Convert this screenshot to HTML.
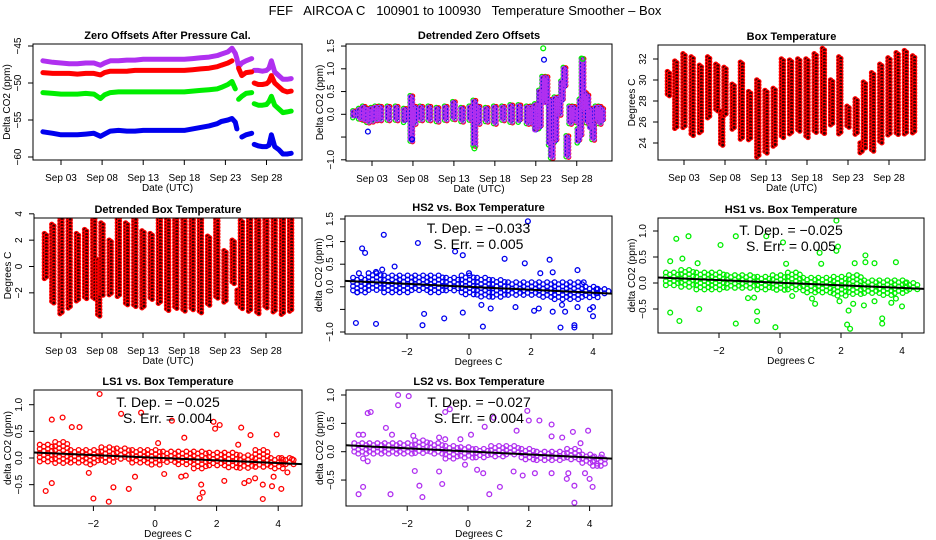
<!DOCTYPE html>
<html><head><meta charset="utf-8"><title>FEF AIRCOA C Temperature Smoother - Box</title>
<style>
html,body{margin:0;padding:0;background:#fff;width:936px;height:540px;overflow:hidden}
svg{display:block;font-family:"Liberation Sans",Arial,sans-serif}
</style></head>
<body>
<svg id="chart" width="936" height="540" viewBox="0 0 936 540" xmlns="http://www.w3.org/2000/svg">
<text x="465" y="15" font-size="13" text-anchor="middle" xml:space="preserve">FEF   AIRCOA C   100901 to 100930   Temperature Smoother – Box</text>
</svg>
<script>
// ---------- Panel 1: zero offsets (day of September, ppm) ----------
const p1Times = [0.8,2,3,4,5,6,7,7.8,8.3,9,10,11,12,13,14,15,16,17,18,19,20,21,22,22.5,23.3,23.8,24.2,24.4,24.6,25,25.5,26.2,26.3,26.5,27,27.5,28,28.3,28.6,29,29.5,30,30.5,31];
const p1Purple = [-47,-47.2,-47.3,-47.4,-47.4,-47.3,-47.3,-47.6,-47.3,-47,-47,-46.9,-46.9,-46.8,-46.8,-46.8,-46.8,-46.8,-46.8,-46.7,-46.6,-46.5,-46.3,-46.1,-45.8,-45.3,-46,-46.7,-47.8,-47.3,-47,-46.7,null,-48.3,-48.3,-48.4,-48.3,-48,-47,-48.5,-49,-49.5,-49.5,-49.4];
const p1Red = [-48.6,-48.7,-48.7,-48.7,-48.8,-48.7,-48.7,-48.9,-48.6,-48.4,-48.4,-48.4,-48.3,-48.3,-48.3,-48.3,-48.3,-48.3,-48.3,-48.2,-48.1,-48,-47.8,-47.6,-47.3,-47,null,null,-48,-49,-48.6,-48.5,null,-50,-50.2,-50.2,-50.1,-49.8,-49,-50,-50.5,-51,-51.2,-51.1];
const p1Green = [-51.3,-51.4,-51.5,-51.5,-51.5,-51.4,-51.5,-52.1,-51.6,-51.3,-51.2,-51.2,-51.2,-51.2,-51.2,-51.2,-51.2,-51.2,-51.2,-51.1,-51,-50.9,-50.8,-50.6,-50.2,-49.8,-50.8,null,-52.2,-51.8,-51.4,-51.3,null,-52.8,-53,-53,-52.9,-52.5,-51.8,-53,-53.5,-54,-53.9,-53.8];
const p1Blue = [-56.6,-56.8,-57,-57,-57,-56.9,-56.8,-57.2,-56.9,-56.5,-56.4,-56.5,-56.5,-56.4,-56.4,-56.4,-56.4,-56.4,-56.4,-56.2,-56,-55.8,-55.5,-55.2,-55,-54.8,-55.3,-56.2,null,-57.3,-57,-56.8,null,-58.3,-58.5,-58.6,-58.6,-58.4,-57,-58.6,-59,-59.6,-59.6,-59.5];
// ---------- Panel 2: detrended zero offsets band ----------
const p2Times = [0.8,1.5,2,2.5,3,3.5,4,5,6,7,7.8,8.2,9,10,11,12,13,14,15,15.5,16,17,18,19,20,21,22,22.5,23,23.5,23.9,24.3,24.7,24.95,25.4,25.9,26.2,26.5,26.85,27.2,27.6,28,28.2,28.45,28.7,29,29.3,29.7,30,30.4,30.8,31.1];
const p2Lo = [-0.05,-0.12,-0.15,-0.2,-0.15,-0.15,-0.12,-0.15,-0.15,-0.15,-0.6,-0.2,-0.15,-0.15,-0.15,-0.15,-0.1,-0.15,-0.12,-0.7,-0.2,-0.15,-0.2,-0.15,-0.2,-0.15,-0.2,-0.2,-0.35,-0.3,0.3,0.25,-0.65,-0.95,-0.6,0.0,0.3,0.6,-0.95,-0.2,-0.15,-0.2,-0.6,-0.5,0.3,0.1,-0.2,-0.3,-0.55,-0.15,-0.2,-0.15];
const p2Hi = [0.05,0.1,0.15,0.1,0.12,0.15,0.15,0.15,0.15,0.1,0.38,0.15,0.15,0.15,0.12,0.15,0.25,0.12,0.15,0.28,0.15,0.12,0.15,0.15,0.18,0.18,0.15,0.15,0.2,0.5,0.8,0.8,0.3,-0.6,0.35,0.35,0.7,1.0,-0.5,0.15,0.15,0.1,-0.35,0.3,1.2,0.45,0.4,0.1,-0.2,0.15,0.15,0.1];
const p2OutT = [2.5,23.9,24.0,28.7,7.9,15.5];
const p2OutV = [-0.38,1.45,1.2,1.22,-0.55,-0.75];
// ---------- Panel 3 / 4: daily box temperature ranges ----------
const tempDays = [1.1,2,3,4,5,6,7,7.6,8,9,10,11,12,13,14,15,16,17,18,19,20,21,22,23,24,24.6,25,26,27,28,29,30,31];
const tempMax = [30.8,31.8,32.5,32.2,31.4,32.2,31.5,27,31.2,29.6,31.7,28.9,30,29,29.2,32,31.9,32,32,32.5,33,30,32.2,27.5,28.2,24,29.8,30.7,31.5,32.1,32.6,32.8,32.3];
const tempMin = [28.5,25.3,25.4,24.7,25,26.3,27,23.7,26.6,25.3,24.3,24.3,22.6,23,23.7,24.5,24.8,25,24.5,25,24.9,25.6,24.8,25.5,24.8,23,23.5,23.2,24,24.7,24.7,24.8,24.9];
const detMax = [2.5,3.2,4.2,3.9,2.5,2.8,4,0.5,3.3,2,4.3,3.3,3.9,2.7,2.5,4.5,3.6,4,3.8,3.9,4.4,2.3,4.3,1.2,2,-1.8,3.5,3.9,3.6,3.8,4.1,4.4,3.9];
const detMin = [-1,-2.8,-3.6,-3.2,-2.7,-2.5,-2.5,-3.8,-2.2,-2.2,-2.3,-3,-3.1,-3.2,-2.6,-2.8,-3.4,-3.2,-3.4,-3.3,-3.5,-3,-2.5,-2.7,-1.4,-2.8,-3.3,-3.4,-3.6,-3.2,-3.5,-3.7,-3.5];
// ---------- Scatter panels: dense band bins + outliers ----------
const bandX = [-3.5,-3,-2.5,-2,-1.5,-1,-0.5,0,0.5,1,1.5,2,2.5,3,3.5,4,4.35];
const hs2Lo = [-0.15,-0.1,-0.15,-0.15,-0.1,-0.15,-0.1,-0.2,-0.25,-0.25,-0.2,-0.2,-0.25,-0.3,-0.3,-0.25,-0.15];
const hs2Hi = [0.2,0.3,0.25,0.25,0.25,0.25,0.2,0.25,0.2,0.15,0.1,0.1,0.1,0.1,0.1,0.0,-0.05];
const hs1Lo = [-0.05,-0.1,-0.15,-0.15,-0.1,-0.12,-0.15,-0.15,-0.15,-0.2,-0.2,-0.25,-0.22,-0.2,-0.25,-0.22,-0.15];
const hs1Hi = [0.2,0.25,0.2,0.2,0.15,0.15,0.12,0.15,0.2,0.1,0.1,0.12,0.15,0.05,0.05,0.05,0.0];
const ls1Lo = [-0.1,-0.1,-0.1,-0.1,-0.1,-0.05,-0.1,-0.15,-0.1,-0.15,-0.2,-0.15,-0.2,-0.2,-0.2,-0.2,-0.15];
const ls1Hi = [0.25,0.3,0.15,0.15,0.2,0.18,0.15,0.15,0.12,0.12,0.12,0.1,0.1,0.05,0.15,0.0,0.0];
const ls2Lo = [-0.05,-0.05,-0.05,-0.05,-0.05,-0.05,-0.15,-0.12,-0.1,-0.1,-0.08,-0.15,-0.15,-0.15,-0.15,-0.2,-0.25];
const ls2Hi = [0.15,0.15,0.15,0.15,0.2,0.15,0.1,0.08,0.05,0.1,0.1,0.05,0.0,0.0,0.05,-0.05,-0.1];
const hs2OutX = [-3.55,-3.45,-3.35,-2.75,-2.4,-1.65,-0.45,-0.2,1.15,1.8,1.9,2.6,3.5,-3.65,-3.6,-3.0,-1.45,-1.5,-0.8,-0.2,0.4,0.45,0.7,1.5,2.1,2.25,2.7,2.95,3.0,3.1,3.4,3.4,3.5,3.9,4.0,4.0,3.7,2.7,2.3,0.0,-3.0,-2.8];
const hs2OutY = [0.3,0.85,0.75,1.15,0.45,0.97,0.78,0.7,0.62,0.52,1.45,0.6,0.37,-0.8,-0.12,-0.82,-0.6,-0.85,-0.7,-0.57,-0.4,-0.88,-0.48,-0.45,-0.53,-0.48,-0.55,-0.9,-0.4,-0.55,-0.9,-0.85,-0.45,-0.5,-0.65,-0.45,0.1,0.32,0.3,0.3,0.33,0.38];
const hs1OutX = [-3.6,-3.4,-3.2,-3.0,-2.7,-1.95,-1.45,-0.45,0.1,1.3,1.85,1.85,1.9,2.8,2.8,3.1,3.8,2.45,1.35,0.2,-3.6,-3.3,-2.65,-1.45,-0.75,-0.75,-0.15,-0.85,-1.05,1.95,2.2,2.3,2.25,2.4,2.75,3.1,3.35,3.35,3.65,3.8,4.0,1.05,1.15,0.4];
const hs1OutY = [0.42,0.85,0.47,0.9,0.38,0.73,0.9,0.9,0.78,0.58,1.2,0.62,0.7,0.53,0.4,0.38,0.4,0.38,0.37,0.37,-0.57,-0.73,-0.5,-0.78,-0.73,-0.55,-0.85,-0.28,-0.29,-0.35,-0.8,-0.88,-0.53,-0.4,-0.43,-0.35,-0.68,-0.78,-0.38,-0.3,-0.45,-0.3,-0.4,-0.25];
const ls1OutX = [-1.8,-3.55,-3.35,-3.35,-3.0,-2.7,-2.45,-2.0,-2.15,-1.5,-1.35,-1.1,-0.85,-0.65,-0.45,0.55,1.9,1.95,2.1,2.8,3.1,3.95,0.95,0.1,0.85,1.0,1.45,1.5,1.55,2.25,2.9,3.05,3.25,3.5,3.5,3.8,3.85,4.1,4.3,0.3,-2.1,2.7,4.45];
const ls1OutY = [1.2,-0.62,-0.47,0.72,0.76,0.58,0.58,-0.76,-0.28,-0.82,-0.55,0.83,-0.58,-0.35,0.85,0.7,0.68,0.55,0.62,0.57,0.43,0.44,0.38,0.28,-0.35,-0.33,-0.75,-0.5,-0.65,-0.43,-0.47,-0.43,-0.38,-0.77,-0.5,-0.53,-0.35,-0.58,-0.27,-0.3,-0.12,0.25,-0.02];
const ls2OutX = [-3.6,-3.45,-3.3,-3.2,-2.7,-2.5,-2.3,-2.3,-1.95,-1.8,-0.95,-0.75,-0.75,-0.6,-0.25,0.1,0.55,0.85,1.6,1.95,2.0,2.35,2.75,2.75,3.1,3.45,3.95,3.7,-3.6,-3.45,-3.45,-3.3,-2.55,-1.75,-1.6,-1.5,-0.95,-0.85,-0.1,0.3,0.5,0.7,1.05,1.5,1.8,2.2,2.75,3.25,3.3,3.5,3.5,3.85,4.0,4.1,4.25,4.4];
const ls2OutY = [0.3,0.3,0.68,0.7,0.42,0.3,1.0,0.82,0.98,0.28,0.25,0.22,0.7,0.75,0.22,0.3,0.44,0.6,0.37,0.72,0.55,0.55,0.48,0.27,0.25,0.35,0.37,0.15,-0.75,-0.62,-0.12,-0.17,-0.75,-0.34,-0.6,-0.8,-0.35,-0.57,-0.23,-0.32,-0.38,-0.75,-0.62,-0.35,-0.42,-0.38,-0.38,-0.48,-0.38,-0.6,-0.9,-0.38,-0.48,-0.62,-0.25,-0.05];
const fitSlope = [-0.033,-0.025,-0.025,-0.027];
const fitIntercept = [0.0,0.005,0.005,0.005];
const fitLabels = ['−0.033','−0.025','−0.025','−0.027'];
const errLabels = ['0.005','0.005','0.004','0.004'];
const dateTicks = [3,8,13,18,23,28];
const dateTickLabels = ['Sep 03','Sep 08','Sep 13','Sep 18','Sep 23','Sep 28'];
const degTicks = [-2,0,2,4];

const NS='http://www.w3.org/2000/svg';
const svg=document.getElementById('chart');
function mk(tag,attrs,parent){const e=document.createElementNS(NS,tag);for(const k in attrs)e.setAttribute(k,attrs[k]);parent.appendChild(e);return e;}

const PURPLE='#b030f0', RED='#ff0000', GREEN='#00ee00', BLUE='#0000ee';

function makePanel(cfg){
  const g=mk('g',{},svg);
  
  
  const sx=v=>cfg.x0+(v-cfg.xv0)*cfg.xs;
  const sy=v=>cfg.y0-(v-cfg.yv0)*cfg.ys;
  const L=cfg.box[0],T=cfg.box[1],R=cfg.box[2],B=cfg.box[3];
  const cid='clip-'+cfg.name;
  const cp=mk('clipPath',{id:cid},g);
  mk('rect',{x:L,y:T,width:R-L,height:B-T},cp);
  const plot=mk('g',{'clip-path':'url(#'+cid+')'},g);
  
  
  const frame=mk('rect',{x:L,y:T,width:R-L,height:B-T,fill:'none',stroke:'#000','stroke-width':1},g);
  
  
  const title=mk('text',{x:(L+R)/2,y:T-5,'font-size':11,'font-weight':'bold','text-anchor':'middle'},g);
  title.textContent=cfg.title;
  
  
  cfg.xt.forEach((v,i)=>{
    const x=sx(v);
    const t=mk('line',{x1:x,x2:x,y1:B,y2:B+5,stroke:'#000'},g);
    
    
    const lb=mk('text',{x:x,y:B+21,'font-size':10,'text-anchor':'middle'},g);
    lb.textContent=cfg.xl[i];
    
    
  });
  const xa=mk('line',{x1:sx(cfg.xt[0]),x2:sx(cfg.xt[cfg.xt.length-1]),y1:B,y2:B,stroke:'#000'},g);
  
  
  const xt=mk('text',{x:(L+R)/2,y:B+31,'font-size':10,'text-anchor':'middle'},g);
  xt.textContent=cfg.xtitle;
  
  
  cfg.yt.forEach((v,i)=>{
    const y=sy(v);
    const t=mk('line',{x1:L-5,x2:L,y1:y,y2:y,stroke:'#000'},g);
    
    
    if(cfg.yl[i]!==''){
      const lb=mk('text',{x:L-12,y:y,'font-size':10,'text-anchor':'middle',transform:'rotate(-90 '+(L-12)+' '+y+')'},g);
      lb.textContent=cfg.yl[i];
      
      
    }
  });
  const ya=mk('line',{x1:L,x2:L,y1:sy(cfg.yt[0]),y2:sy(cfg.yt[cfg.yt.length-1]),stroke:'#000'},g);
  
  
  const yy=(T+B)/2;
  const ytl=mk('text',{x:L-23,y:yy,'font-size':10,'text-anchor':'middle',transform:'rotate(-90 '+(L-23)+' '+yy+')'},g);
  ytl.textContent=cfg.ytitle;
  
  
  return {g,plot,sx,sy,L,T,R,B};
}
function dot(parent,x,y,color,fill,r){
  const c=mk('circle',{cx:x.toFixed(1),cy:y.toFixed(1),r:r||2.4,fill:fill||'none',stroke:color,'stroke-width':1.3},parent);
  
  
  return c;
}
function seriesLine(P,times,vals,color,name){
  let segs=[],cur=[];
  times.forEach((t,i)=>{ if(vals[i]===null){ if(cur.length)segs.push(cur); cur=[]; } else cur.push([P.sx(t),P.sy(vals[i])]); });
  if(cur.length)segs.push(cur);
  segs.forEach(s=>{
    if(s.length===1){ const c=mk('circle',{cx:s[0][0],cy:s[0][1],r:3,fill:color},P.plot);
      
      
      return; }
    const pl=mk('polyline',{points:s.map(p=>p[0].toFixed(1)+','+p[1].toFixed(1)).join(' '),fill:'none',stroke:color,'stroke-width':5,'stroke-linejoin':'round','stroke-linecap':'round'},P.plot);
    
    
  });
}
function columns(P,times,lo,hi,offs,color,fill,step){
  step=step||3;
  times.forEach((t,i)=>{
    const y1=P.sy(hi[i]),y2=P.sy(lo[i]);
    offs.forEach((o,j)=>{
      const x=P.sx(t+o);
      for(let y=y1+(j%2)*step/2;y<=y2+0.01;y+=step) dot(P.plot,x,y,color,fill,2.1);
    });
  });
}

const geo=[
 {name:'panel-zero-offsets',title:'Zero Offsets After Pressure Cal.',box:[33,44,302,160],x0:61,xv0:3,xs:8.22,y0:46,yv0:-45,ys:7.4,xt:dateTicks,xl:dateTickLabels,xtitle:'Date (UTC)',yt:[-60,-55,-50,-45],yl:['−60','−55','−50','−45'],ytitle:'Delta CO2  (ppm)'},
 {name:'panel-detrended-zero-offsets',title:'Detrended Zero Offsets',box:[346,44,612,161],x0:372,xv0:3,xs:8.19,y0:114.3,yv0:0,ys:45.5,xt:dateTicks,xl:dateTickLabels,xtitle:'Date (UTC)',yt:[-1,-0.5,0,0.5,1,1.5],yl:['−1.0','','0.0','0.5','1.0','1.5'],ytitle:'Delta CO2  (ppm)'},
 {name:'panel-box-temperature',title:'Box Temperature',box:[658,45,925,160],x0:684,xv0:3,xs:8.2,y0:59,yv0:32,ys:10.5,xt:dateTicks,xl:dateTickLabels,xtitle:'Date (UTC)',yt:[24,26,28,30,32],yl:['24','26','28','30','32'],ytitle:'Degrees C'},
 {name:'panel-detrended-box-temperature',title:'Detrended Box Temperature',box:[34,218,302,333],x0:61,xv0:3,xs:8.2,y0:266.5,yv0:0,ys:13.17,xt:dateTicks,xl:dateTickLabels,xtitle:'Date (UTC)',yt:[-2,0,2,4],yl:['−2','0','2','4'],ytitle:'Degrees C'},
 {name:'panel-hs2-vs-temp',title:'HS2 vs. Box Temperature',box:[345,216,612,334],x0:469,xv0:0,xs:31,y0:286.8,yv0:0,ys:45.2,xt:degTicks,xl:['−2','0','2','4'],xtitle:'Degrees C',yt:[-1,-0.5,0,0.5,1,1.5],yl:['−1.0','','0.0','0.5','1.0','1.5'],ytitle:'delta CO2 (ppm)'},
 {name:'panel-hs1-vs-temp',title:'HS1 vs. Box Temperature',box:[658,218,924,333],x0:780,xv0:0,xs:30.5,y0:283,yv0:0,ys:52,xt:degTicks,xl:['−2','0','2','4'],xtitle:'Degrees C',yt:[-0.5,0,0.5,1],yl:['−0.5','0.0','0.5','1.0'],ytitle:'delta CO2 (ppm)'},
 {name:'panel-ls1-vs-temp',title:'LS1 vs. Box Temperature',box:[34,390,302,506],x0:155,xv0:0,xs:30.8,y0:458,yv0:0,ys:53.3,xt:degTicks,xl:['−2','0','2','4'],xtitle:'Degrees C',yt:[-0.5,0,0.5,1],yl:['−0.5','0.0','0.5','1.0'],ytitle:'delta CO2 (ppm)'},
 {name:'panel-ls2-vs-temp',title:'LS2 vs. Box Temperature',box:[346,390,612,506],x0:468,xv0:0,xs:30.4,y0:451.7,yv0:0,ys:56.7,xt:degTicks,xl:['−2','0','2','4'],xtitle:'Degrees C',yt:[-0.5,0,0.5,1],yl:['−0.5','0.0','0.5','1.0'],ytitle:'delta CO2 (ppm)'}
];
const P=geo.map(makePanel);

// Panel 1
seriesLine(P[0],p1Times,p1Purple,PURPLE,'series-purple');
seriesLine(P[0],p1Times,p1Red,RED,'series-red');
seriesLine(P[0],p1Times,p1Green,GREEN,'series-green');
seriesLine(P[0],p1Times,p1Blue,BLUE,'series-blue');
// Panel 2
columns(P[1],p2Times,p2Lo.map(v=>v-0.03),p2Hi.map(v=>v+0.03),[-0.15],GREEN,null,3.5);
columns(P[1],p2Times,p2Lo.map(v=>v-0.02),p2Hi.map(v=>v+0.02),[0.15],RED,null,3.5);
columns(P[1],p2Times,p2Lo,p2Hi,[0],BLUE,null,3.5);
columns(P[1],p2Times,p2Lo,p2Hi,[-0.12,0.12],PURPLE,null,3.5);
p2OutT.forEach((t,i)=>dot(P[1].plot,P[1].sx(t),P[1].sy(p2OutV[i]),i%2?GREEN:BLUE));
// Panel 3 & 4
columns(P[2],tempDays,tempMin,tempMax,[-0.12,0.12],RED,'#300',3.2);
columns(P[3],tempDays,detMin,detMax,[-0.12,0.12],RED,'#300',3.2);
// Scatter panels
const scat=[[hs2Lo,hs2Hi,hs2OutX,hs2OutY,BLUE],[hs1Lo,hs1Hi,hs1OutX,hs1OutY,GREEN],[ls1Lo,ls1Hi,ls1OutX,ls1OutY,RED],[ls2Lo,ls2Hi,ls2OutX,ls2OutY,PURPLE]];
scat.forEach((s,k)=>{
  const Q=P[4+k];
  bandX.forEach((c,i)=>{
    const y1=Q.sy(s[1][i]),y2=Q.sy(s[0][i]);
    let n=0;
    for(let xo=-0.24;xo<=0.24;xo+=0.13){
      for(let y=y1+(n%2)*2;y<=y2+0.01;y+=4.2) dot(Q.plot,Q.sx(c+xo),y,s[4]);
      n++;
    }
  });
  s[2].forEach((x,i)=>dot(Q.plot,Q.sx(x),Q.sy(s[3][i]),s[4]));
  const xa=-4.5,xb=5;
  const fl=mk('line',{x1:Q.sx(xa),y1:Q.sy(fitIntercept[k]+fitSlope[k]*xa),x2:Q.sx(xb),y2:Q.sy(fitIntercept[k]+fitSlope[k]*xb),stroke:'#000','stroke-width':2},Q.plot);
  
  
  const cx=(Q.L+Q.R)/2;
  const t1=mk('text',{x:cx,y:Q.T+17,'font-size':14,'text-anchor':'middle','xml:space':'preserve'},Q.g);
  t1.textContent='T. Dep. =  '+fitLabels[k];
  
  
  const t2=mk('text',{x:cx,y:Q.T+33,'font-size':14,'text-anchor':'middle','xml:space':'preserve'},Q.g);
  t2.textContent='S. Err. =  '+errLabels[k];
  
  
});
</script>
</body></html>
